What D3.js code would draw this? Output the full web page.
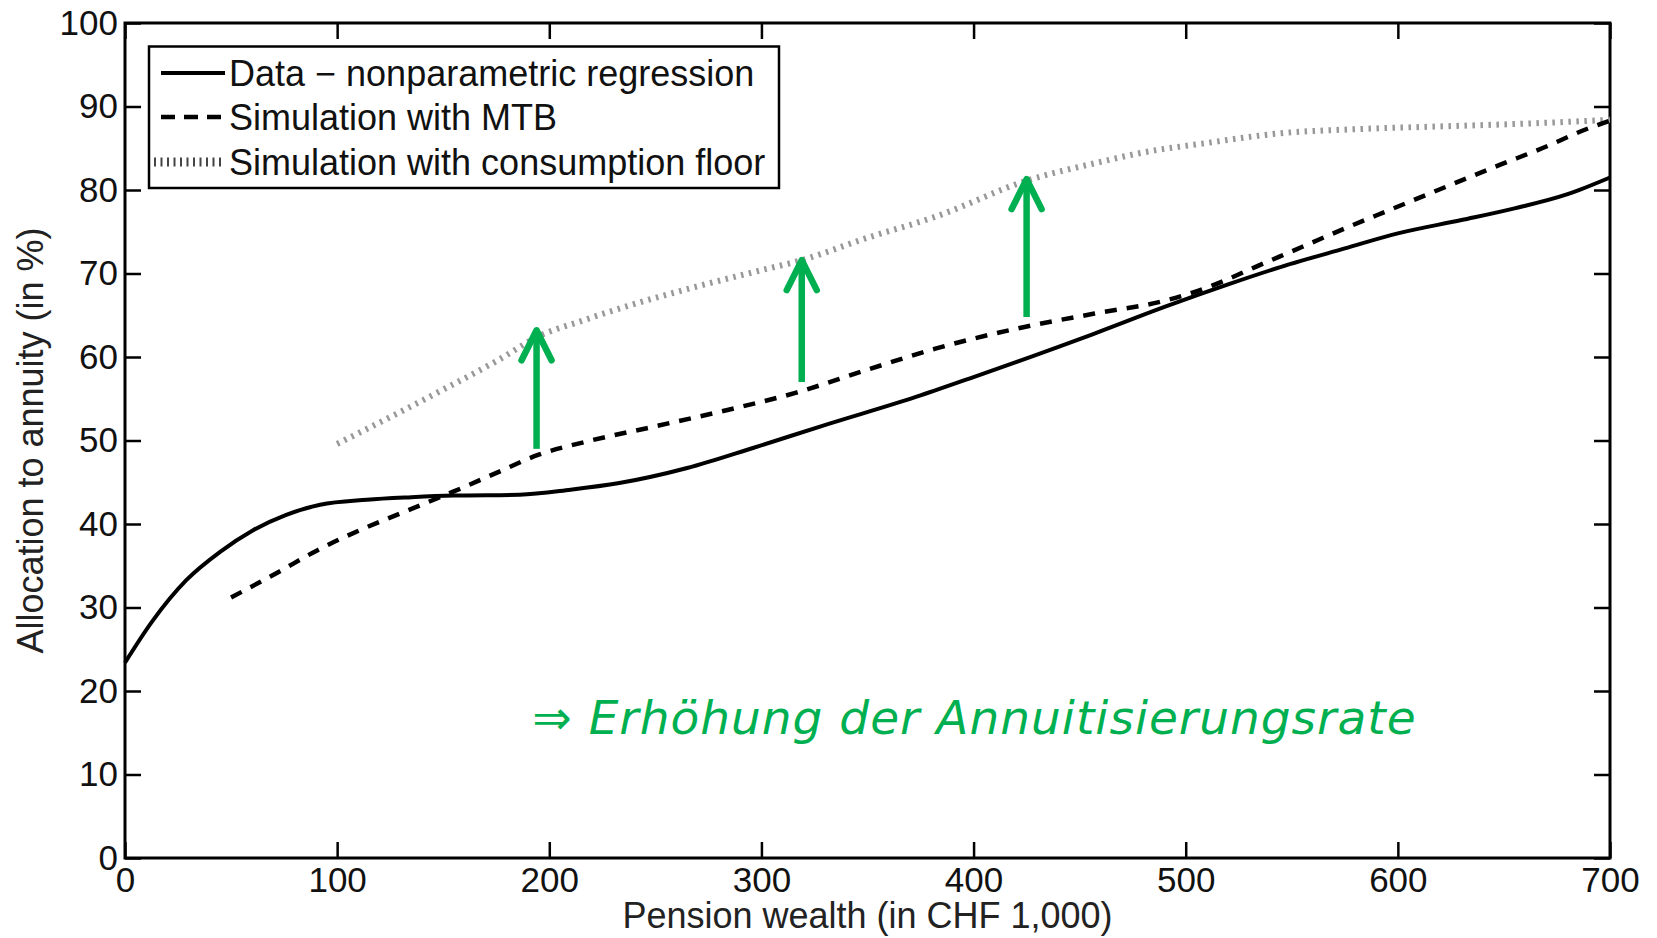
<!DOCTYPE html>
<html>
<head>
<meta charset="utf-8">
<script src="https://cdn.jsdelivr.net/npm/d3@7"></script>
<style>
  body { margin: 0; background: #fff; }
  svg text { font-family: "Liberation Sans", Arial, sans-serif; }
</style>
</head>
<body>
<div id="chart"></div>
<script>
// Data - nonparametric regression (solid)
const dataX = [0, 13, 29, 45, 60, 76, 92, 114, 135, 155, 186, 210, 233, 265, 296, 328, 375, 400, 420, 440, 460, 490, 520, 545, 575, 600, 630, 655, 680, 700];
const dataY = [23.4, 28.4, 33.3, 36.7, 39.2, 41.1, 42.3, 42.9, 43.2, 43.4, 43.5, 44.1, 44.9, 46.7, 49.1, 51.7, 55.4, 57.6, 59.4, 61.2, 63.1, 66.0, 68.7, 70.8, 73.0, 74.8, 76.4, 77.8, 79.5, 81.5];

// Simulation with MTB (dashed)
const mtbX = [50, 72, 91, 112, 133, 155, 174, 195, 218, 250, 283, 316, 349, 382, 424, 457, 491, 513, 533, 555, 575, 597, 619, 648, 668, 690, 700];
const mtbY = [31.2, 34.2, 36.9, 39.4, 41.6, 43.9, 46.0, 48.3, 49.9, 51.7, 53.6, 55.7, 58.4, 61.0, 63.6, 65.2, 66.8, 68.6, 70.8, 73.2, 75.4, 77.7, 80.0, 83.0, 85.0, 87.4, 88.3];

// Simulation with consumption floor (dotted)
const floorX = [100, 125, 150, 175, 196, 215, 233, 266, 300, 319, 349, 382, 426, 457, 480, 509, 545, 582, 618, 655, 700];
const floorY = [49.6, 52.8, 56.1, 59.5, 62.6, 64.3, 65.8, 68.2, 70.4, 71.6, 74.2, 76.8, 81.2, 83.2, 84.5, 85.6, 86.8, 87.3, 87.6, 87.9, 88.4];

// green arrows: x position, start and end values
const arrowX = [194, 319, 425];
const arrowFrom = [49.0, 57.0, 64.8];
const arrowTo = [63.2, 71.6, 81.3];

const xTicks = [0, 100, 200, 300, 400, 500, 600, 700];
const yTicks = [0, 10, 20, 30, 40, 50, 60, 70, 80, 90, 100];

const seriesNames = ["Data \u2212 nonparametric regression", "Simulation with MTB", "Simulation with consumption floor"];
const annotation = "\u21D2 Erh\u00F6hung der Annuitisierungsrate";

const width = 1657, height = 938;
const margin = { top: 23, right: 47, bottom: 80, left: 125 };

const svg = d3.select("#chart").append("svg")
    .attr("width", width)
    .attr("height", height)
    .style("background", "#fff");

const x = d3.scaleLinear().domain([0, 700]).range([margin.left, width - margin.right]);
const y = d3.scaleLinear().domain([0, 100]).range([height - margin.bottom, margin.top]);

// axes, MATLAB style: ticks pointing inwards on all four sides
const tickLen = 16;
function styleAxis(g) {
    g.select(".domain").remove();
    g.selectAll(".tick line").attr("stroke", "#000").attr("stroke-width", 2.5);
    g.selectAll(".tick text").attr("fill", "#111").style("font-size", "35px");
}

svg.append("g")
    .attr("transform", `translate(0,${y(0)})`)
    .call(d3.axisBottom(x).tickValues(xTicks).tickSize(-tickLen).tickPadding(9))
    .call(styleAxis);

svg.append("g")
    .attr("transform", `translate(0,${y(100)})`)
    .call(d3.axisTop(x).tickValues(xTicks).tickSize(-tickLen).tickFormat(""))
    .call(styleAxis);

svg.append("g")
    .attr("transform", `translate(${x(0)},0)`)
    .call(d3.axisLeft(y).tickValues(yTicks).tickSize(-tickLen).tickPadding(7))
    .call(styleAxis);

svg.append("g")
    .attr("transform", `translate(${x(700)},0)`)
    .call(d3.axisRight(y).tickValues(yTicks).tickSize(-tickLen).tickFormat(""))
    .call(styleAxis);

// plot frame
svg.append("rect")
    .attr("x", x(0)).attr("y", y(100))
    .attr("width", x(700) - x(0)).attr("height", y(0) - y(100))
    .attr("fill", "none").attr("stroke", "#000").attr("stroke-width", 3);

// axis titles
svg.append("text")
    .attr("x", (x(0) + x(700)) / 2).attr("y", height - 10)
    .attr("text-anchor", "middle")
    .attr("fill", "#222")
    .style("font-size", "36px")
    .text("Pension wealth (in CHF 1,000)");

svg.append("text")
    .attr("transform", `translate(30,${(y(0) + y(100)) / 2}) rotate(-90)`)
    .attr("text-anchor", "middle")
    .attr("dy", "0.35em")
    .attr("fill", "#222")
    .style("font-size", "36px")
    .text("Allocation to annuity (in %)");

const line = d3.line()
    .x(d => x(d[0]))
    .y(d => y(d[1]))
    .curve(d3.curveMonotoneX);

const series = [
    { xs: floorX, ys: floorY, stroke: "#999", width: 6, dash: "2.5,5.5" },
    { xs: mtbX, ys: mtbY, stroke: "#000", width: 4.5, dash: "12,10" },
    { xs: dataX, ys: dataY, stroke: "#000", width: 4, dash: null }
];

series.forEach(s => {
    svg.append("path")
        .datum(d3.zip(s.xs, s.ys))
        .attr("fill", "none")
        .attr("stroke", s.stroke)
        .attr("stroke-width", s.width)
        .attr("stroke-dasharray", s.dash)
        .attr("d", line);
});

// green arrows
const green = "#00b050";
const arrows = svg.append("g")
    .attr("stroke", green)
    .attr("stroke-width", 6.5)
    .attr("stroke-linecap", "round")
    .attr("stroke-linejoin", "round")
    .attr("fill", "none");

arrowX.forEach((ax, i) => {
    const px = x(ax), y0 = y(arrowFrom[i]), y1 = y(arrowTo[i]);
    arrows.append("line")
        .attr("x1", px).attr("x2", px)
        .attr("y1", y0).attr("y2", y1 + 2)
        .attr("stroke-linecap", "butt");
    arrows.append("path")
        .attr("d", `M${px - 15},${y1 + 30} L${px},${y1} L${px + 15},${y1 + 30}`);
});

// annotation text
svg.append("text")
    .attr("x", x(192)).attr("y", y(14.9))
    .attr("fill", green)
    .style("font-family", "'DejaVu Sans', Verdana, sans-serif")
    .style("font-style", "italic")
    .style("font-size", "47px")
    .style("letter-spacing", "1px")
    .text(annotation);

// legend
const legend = svg.append("g");
legend.append("rect")
    .attr("x", 149).attr("y", 46.5)
    .attr("width", 630).attr("height", 141.5)
    .attr("fill", "#fff").attr("stroke", "#000").attr("stroke-width", 2.5);

const legendRows = [
    { y: 73, x1: 161, x2: 225, stroke: "#000", width: 4, dash: null },
    { y: 117, x1: 161, x2: 225, stroke: "#000", width: 4.5, dash: "14,9" },
    { y: 162, x1: 154, x2: 222, stroke: "#444", width: 9, dash: "2,4.5" }
];

legendRows.forEach((r, i) => {
    legend.append("line")
        .attr("x1", r.x1).attr("x2", r.x2)
        .attr("y1", r.y).attr("y2", r.y)
        .attr("stroke", r.stroke)
        .attr("stroke-width", r.width)
        .attr("stroke-dasharray", r.dash);
    legend.append("text")
        .attr("x", 229).attr("y", r.y)
        .attr("dy", "0.35em")
        .attr("fill", "#111")
        .style("font-size", "36px")
        .text(seriesNames[i]);
});
</script>
</body>
</html>
